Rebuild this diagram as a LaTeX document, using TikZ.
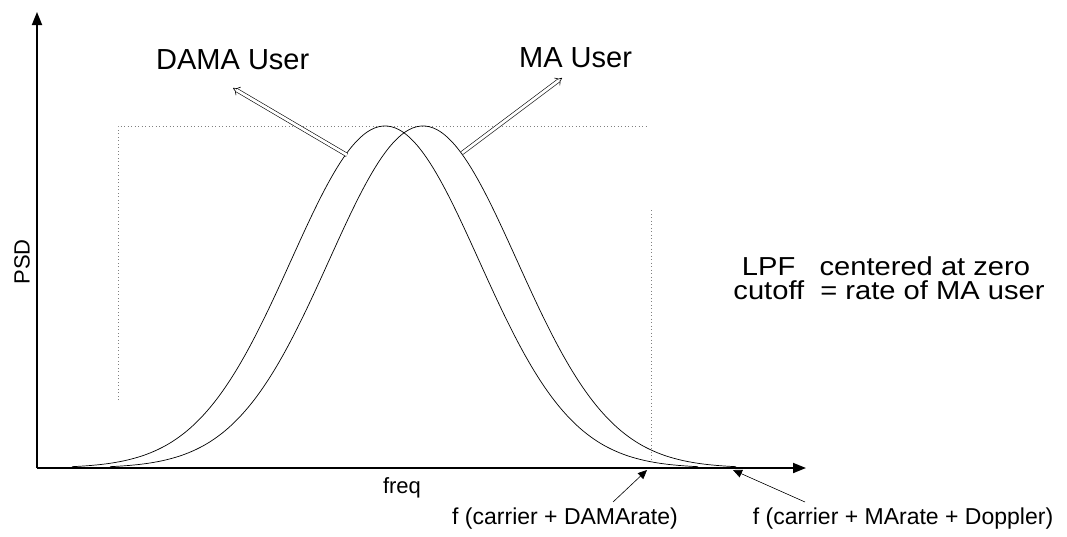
\documentclass[tikz,border=0pt]{standalone}
\usepackage{fontspec}
\setmainfont{Liberation Sans}
\newfontfamily\widefont[FakeStretch=1.12]{Liberation Sans}
\usetikzlibrary{arrows.meta}
\begin{document}
\begin{tikzpicture}[x=1pt,y=-1pt,
  axis/.style={line width=1.8pt,-{Triangle[length=13pt,width=10pt]}},
  curve/.style={line width=0.7pt},
  hollow/.style={double, double distance=2.8pt, line width=0.6pt, -{Implies}},
  pointer/.style={line width=0.6pt,-{Triangle[length=9pt,width=8pt]}},
  guide/.style={line width=0.7pt, gray, dash pattern=on 1pt off 2.5pt},
  lbl/.style={inner sep=0pt}
]
\useasboundingbox (0,0) rectangle (1067,536);
% guide lines
\coordinate (gtl) at (118,126);
\coordinate (gtr) at (647,126);
\coordinate (gbl) at (118,400);
\coordinate (grt) at (651,210);
\coordinate (grb) at (651,462);
\draw[guide] (gbl) -- (gtl) -- (gtr);
\draw[guide] (grt) -- (grb);
% axes
\coordinate (O) at (37,468);
\coordinate (ytip) at (37,12);
\coordinate (xtip) at (806,468);
\draw[axis] (O) -- (ytip);
\draw[axis] (O) -- (xtip);
% curves
\draw[curve] plot[domain=72:698, samples=160, smooth]
  (\x,{468-342*exp(-0.5*((\x-385)/94)*((\x-385)/94))});
\draw[curve] plot[domain=110:736, samples=160, smooth]
  (\x,{468-342*exp(-0.5*((\x-423)/94)*((\x-423)/94))});
% user arrows
\coordinate (dt) at (347,155);
\coordinate (dh) at (233,88);
\coordinate (mt) at (462,153);
\coordinate (mh) at (562,78);
\draw[hollow] (dt) -- (dh);
\draw[hollow] (mt) -- (mh);
% labels
\node[lbl, anchor=base west, font=\fontsize{29}{34}\selectfont] (dama) at (156,69) {DAMA User};
\node[lbl, anchor=base west, font=\fontsize{29}{34}\selectfont] (ma) at (519,67) {MA User};
\node[lbl, anchor=center, rotate=90, font=\fontsize{22}{26}\selectfont] (psd) at (22,262) {PSD};
\node[lbl, anchor=base, font=\fontsize{22}{26}\selectfont] (freq) at (402,493) {freq};
\node[lbl, anchor=base, font=\widefont\fontsize{26}{30}\selectfont] (lpf) at (886,275) {LPF\ \ \ centered at zero};
\node[lbl, anchor=base, font=\widefont\fontsize{26}{30}\selectfont] (cut) at (889,299) {cutoff\ \ = rate of MA user};
\node[lbl, anchor=base, font=\fontsize{23}{27}\selectfont] (fd) at (565,524) {f (carrier + DAMArate)};
\node[lbl, anchor=base, font=\fontsize{23}{27}\selectfont] (fm) at (903,524) {f (carrier + MArate + Doppler)};
% pointers
\coordinate (p1s) at (613,502);
\coordinate (p1e) at (647,470);
\coordinate (p2s) at (805,502);
\coordinate (p2e) at (733,470);
\draw[pointer] (p1s) -- (p1e);
\draw[pointer] (p2s) -- (p2e);
\end{tikzpicture}
\end{document}
